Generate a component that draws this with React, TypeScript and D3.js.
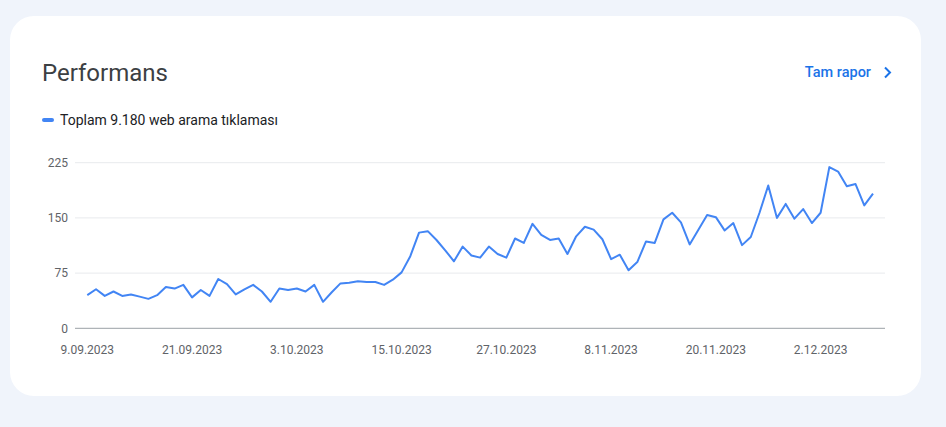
import React from "react";
import * as d3 from "d3";

// Daily web search clicks, 9.09.2023 – 8.12.2023
const startDate = new Date(2023, 8, 9);
const clicks: number[] = [
  45, 53, 44, 50, 44, 46, 43, 40, 45, 56, 54, 59, 42, 52, 44, 67, 60, 46, 53, 59,
  50, 36, 54, 52, 54, 50, 59, 36, 49, 61, 62, 64, 63, 63, 59, 66, 76, 98, 130, 132,
  120, 106, 91, 111, 99, 96, 111, 101, 96, 122, 116, 142, 127, 120, 122, 101, 125, 138, 134, 121,
  94, 100, 79, 90, 118, 116, 148, 157, 144, 114, 134, 154, 151, 133, 143, 113, 124, 157, 194, 150,
  169, 149, 162, 143, 157, 219, 213, 193, 196, 167, 183,
];
const yTicks: number[] = [0, 75, 150, 225];
const xTickEvery = 12;
const totalLabel = "Toplam 9.180 web arama tıklaması";

const W = 946;
const H = 427;

export default function App() {
  const dates = clicks.map((_, i) => d3.timeDay.offset(startDate, i));
  const x = d3
    .scaleTime()
    .domain([dates[0], dates[dates.length - 1]])
    .range([87.3, 873]);
  const y = d3.scaleLinear().domain([0, 225]).range([328.3, 162.7]);
  const fmt = d3.timeFormat("%-d.%m.%Y");
  const line = d3
    .line<number>()
    .x((_, i) => x(dates[i]))
    .y((d) => y(d));
  const xTickDates = dates.filter((_, i) => i % xTickEvery === 0);

  const font = "Roboto, 'Noto Sans', sans-serif";

  return (
    <div style={{ position: "absolute", left: 0, top: 0 }}>
      <svg width={W} height={H} style={{ display: "block" }}>
        <rect x={0} y={0} width={W} height={H} fill="#f0f4fb" />
        <rect x={10} y={16} width={911} height={380} rx={24} fill="#ffffff" />

        <text x={42} y={81} fontFamily={font} fontSize={24} fill="#3c4043">
          Performans
        </text>
        <text
          x={871}
          y={77}
          textAnchor="end"
          fontFamily={font}
          fontSize={14.5}
          fontWeight={500}
          fill="#1a73e8"
        >
          Tam rapor
        </text>
        <path
          d="M885,67.5 L890,72.5 L885,77.5"
          fill="none"
          stroke="#1a73e8"
          strokeWidth={2}
        />

        <line
          x1={44}
          x2={52}
          y1={120}
          y2={120}
          stroke="#4285f4"
          strokeWidth={4}
          strokeLinecap="round"
        />
        <text x={60} y={125} fontFamily={font} fontSize={14} fill="#202124">
          {totalLabel}
        </text>

        {yTicks.map((t) => (
          <g key={t}>
            <line
              x1={75}
              x2={885}
              y1={y(t)}
              y2={y(t)}
              stroke={t === 0 ? "#9aa0a6" : "#e8eaed"}
              strokeWidth={1}
            />
            <text
              x={68}
              y={y(t)}
              dy="0.35em"
              textAnchor="end"
              fontFamily={font}
              fontSize={12}
              fill="#5f6368"
            >
              {t}
            </text>
          </g>
        ))}

        {xTickDates.map((d) => (
          <text
            key={+d}
            x={x(d)}
            y={354}
            textAnchor="middle"
            fontFamily={font}
            fontSize={12}
            fill="#5f6368"
          >
            {fmt(d)}
          </text>
        ))}

        <path
          d={line(clicks) ?? ""}
          fill="none"
          stroke="#4285f4"
          strokeWidth={2}
          strokeLinejoin="round"
        />
      </svg>
    </div>
  );
}
